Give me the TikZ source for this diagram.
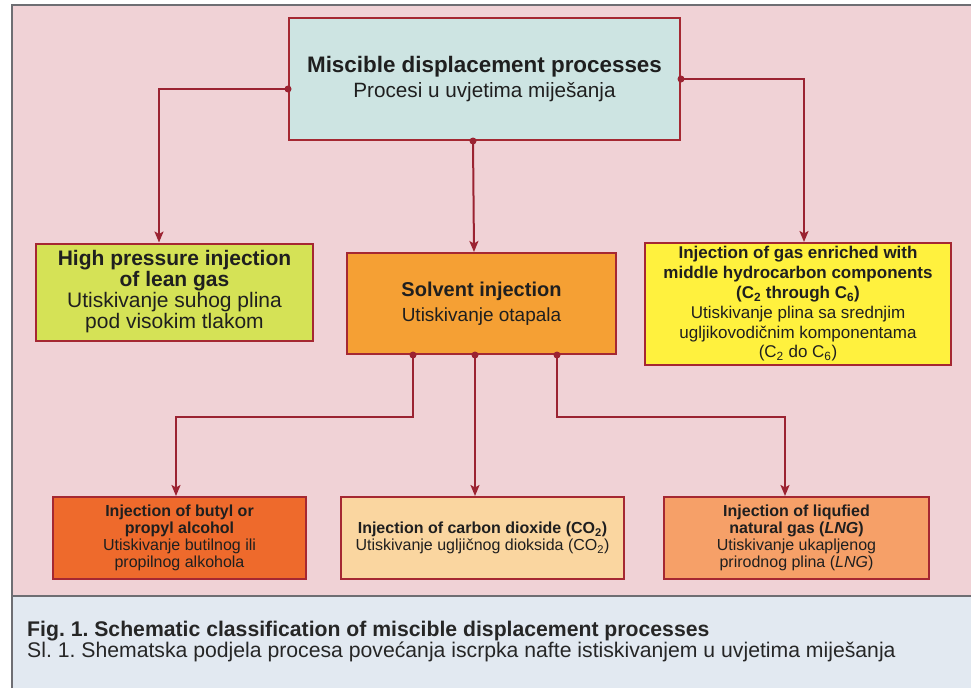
\documentclass[tikz,border=0pt]{standalone}
\usepackage{fontspec}
\setmainfont{Liberation Sans}
\usepackage{xcolor}
\usetikzlibrary{positioning,arrows.meta}
\frenchspacing

\definecolor{linkred}{RGB}{155,35,50}
\definecolor{boxred}{RGB}{165,40,50}
\definecolor{pinkbg}{RGB}{240,210,214}
\definecolor{capbg}{RGB}{226,233,241}
\definecolor{framegray}{RGB}{110,110,115}
\definecolor{topfill}{RGB}{205,228,226}
\definecolor{greenfill}{RGB}{213,226,86}
\definecolor{solventfill}{RGB}{245,160,52}
\definecolor{yellowfill}{RGB}{255,241,62}
\definecolor{butylfill}{RGB}{238,106,44}
\definecolor{cofill}{RGB}{250,214,160}
\definecolor{lngfill}{RGB}{246,160,104}

\tikzset{
  box/.style={draw=boxred, line width=2pt, align=center, inner sep=0pt, text=black!88},
  link/.style={draw=linkred, line width=2pt, -{Stealth[length=11pt,width=9pt,inset=2.5pt]}},
  dotmark/.style={circle, fill=linkred, inner sep=0pt, minimum size=7pt},
  small/.style={font=\fontsize{16}{17}\selectfont}
}

\begin{document}
\begin{tikzpicture}[x=1pt,y=-1pt]
  \useasboundingbox (0,0) rectangle (971,688);
  \fill[white] (0,0) rectangle (971,688);
  \fill[pinkbg] (12,5) rectangle (971,596);
  \fill[capbg] (12,596) rectangle (971,688);
  \draw[framegray, line width=1.5pt] (12,688) -- (12,5) -- (971,5);
  \draw[framegray, line width=1.5pt] (12,596) -- (971,596);

  \node[box, fill=topfill, minimum width=391pt, minimum height=122pt,
        font=\fontsize{20.7}{25}\selectfont] (top) at (484.5,79)
    {{\bfseries\fontsize{22.4}{25}\selectfont Miscible displacement processes}\\Procesi u uvjetima miješanja};
  \node[box, fill=greenfill, minimum width=277pt, minimum height=97pt,
        font=\fontsize{21}{21}\selectfont] (green) at (174.5,292)
    {\textbf{High pressure injection}\\\textbf{of lean gas}\\Utiskivanje suhog plina\\pod visokim tlakom};
  \node[box, fill=solventfill, minimum width=269pt, minimum height=101pt,
        font=\fontsize{19}{25}\selectfont] (solvent) at (481.5,303.5)
    {{\bfseries\fontsize{20}{25}\selectfont Solvent injection}\\Utiskivanje otapala};
  \node[box, fill=yellowfill, minimum width=306pt, minimum height=122pt,
        font=\fontsize{17}{19.8}\selectfont] (yellow) at (798,304)
    {\textbf{Injection of gas enriched with}\\\textbf{middle hydrocarbon components}\\
     \textbf{(C\textsubscript{2} through C\textsubscript{6})}\\Utiskivanje plina sa srednjim\\
     ugljikovodičnim komponentama\\(C\textsubscript{2} do C\textsubscript{6})};

  \node[box, small, fill=butylfill, minimum width=253pt, minimum height=82pt] (butyl) at (179.5,538)
    {\textbf{Injection of butyl or}\\\textbf{propyl alcohol}\\Utiskivanje butilnog ili\\propilnog alkohola};
  \node[box, small, fill=cofill, minimum width=283pt, minimum height=82pt] (co2) at (482.5,538)
    {\textbf{Injection of carbon dioxide (CO\textsubscript{2})}\\Utiskivanje ugljičnog dioksida (CO\textsubscript{2})};
  \node[box, small, fill=lngfill, minimum width=265pt, minimum height=82pt] (lng) at (796.5,538)
    {\textbf{Injection of liqufied}\\\textbf{natural gas (\textit{LNG})}\\Utiskivanje ukapljenog\\prirodnog plina (\textit{LNG})};

  \draw[link] ([yshift=-10pt]top.west) node[dotmark]{} -| ([xshift=-15.5pt]green.north);
  \draw[link] (top.east) node[dotmark]{} -| ([xshift=6pt]yellow.north);
  \draw[link] ([xshift=-11.5pt]top.south) node[dotmark]{} -- ([xshift=-7.5pt]solvent.north);
  \draw[link] ([xshift=-68.5pt]solvent.south) node[dotmark]{} -- ++(0,62) -| ([xshift=-3.5pt]butyl.north);
  \draw[link] ([xshift=-6.5pt]solvent.south) node[dotmark]{} -- ([xshift=-7.5pt]co2.north);
  \draw[link] ([xshift=75.5pt]solvent.south) node[dotmark]{} -- ++(0,62) -| ([xshift=-11.5pt]lng.north);

  \node[anchor=base west, inner sep=0pt, text=black!85, font=\bfseries\fontsize{21.2}{21}\selectfont] (figcap) at (27,636)
    {Fig. 1. Schematic classification of miscible displacement processes};
  \node[anchor=base west, inner sep=0pt, text=black!85, font=\fontsize{21.2}{21}\selectfont] (slcap) at (27,657)
    {Sl. 1. Shematska podjela procesa povećanja iscrpka nafte istiskivanjem u uvjetima miješanja};
\end{tikzpicture}
\end{document}
